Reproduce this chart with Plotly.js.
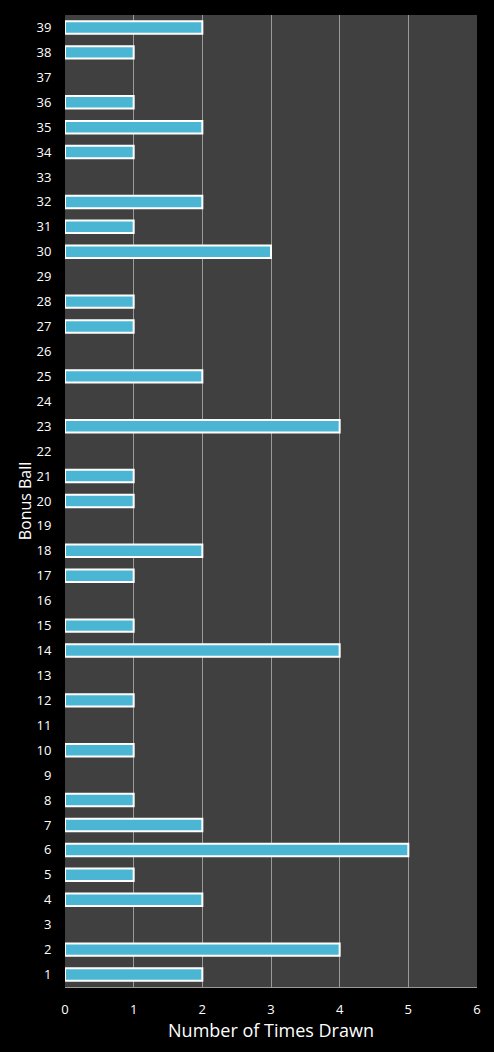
<!DOCTYPE html>
<html>
<head>
<meta charset="utf-8">
<script src="https://cdn.plot.ly/plotly-3.0.1.min.js"></script>
<style>
  html, body { margin: 0; padding: 0; background: #000; }
  #chart { width: 494px; height: 1052px; }
</style>
</head>
<body>
<div id="chart"></div>
<script>
const balls = [];
for (let i = 1; i <= 39; i++) balls.push(String(i));

const timesDrawn = [
  2, 4, 0, 2, 1, 5, 2, 1, 0, 1,
  0, 1, 0, 4, 1, 0, 1, 2, 0, 1,
  1, 0, 4, 0, 2, 0, 1, 1, 0, 3,
  1, 2, 0, 1, 2, 1, 0, 1, 2
];

const xTicks = [0, 1, 2, 3, 4, 5, 6];

// no outline on empty bars so nothing shows at zero
const outlineWidths = timesDrawn.map(v => (v > 0 ? 2 : 0));

const trace = {
  type: 'bar',
  orientation: 'h',
  x: timesDrawn,
  y: balls,
  width: 0.5,
  marker: {
    color: '#4bb6d3',
    line: { color: '#ffffff', width: outlineWidths }
  },
  hoverinfo: 'x+y'
};

const layout = {
  width: 494,
  height: 1052,
  paper_bgcolor: '#000000',
  plot_bgcolor: '#404040',
  margin: { l: 65, r: 17, t: 15, b: 65 },
  font: { family: 'Open Sans, DejaVu Sans, sans-serif', color: '#ffffff', size: 12 },
  showlegend: false,
  xaxis: {
    range: [0, 6],
    tickvals: xTicks,
    showgrid: true,
    gridcolor: '#9a9a9a',
    gridwidth: 1,
    zeroline: false,
    showline: true,
    linecolor: '#9a9a9a',
    linewidth: 1,
    mirror: false,
    ticks: 'outside',
    ticklen: 10,
    tickcolor: 'rgba(0,0,0,0)',
    tickfont: { size: 13, color: '#ffffff' },
    title: { text: 'Number of Times Drawn', font: { size: 18, color: '#ffffff' }, standoff: 4 }
  },
  yaxis: {
    type: 'category',
    categoryorder: 'array',
    categoryarray: balls,
    range: [-0.5, 38.5],
    showgrid: false,
    zeroline: false,
    showline: false,
    ticks: 'outside',
    ticklen: 10,
    tickcolor: 'rgba(0,0,0,0)',
    tickfont: { size: 13, color: '#ffffff' },
    title: { text: 'Bonus Ball', font: { size: 16, color: '#ffffff' }, standoff: 0 }
  }
};

Plotly.newPlot('chart', [trace], layout, { displayModeBar: false, staticPlot: true });
</script>
</body>
</html>
